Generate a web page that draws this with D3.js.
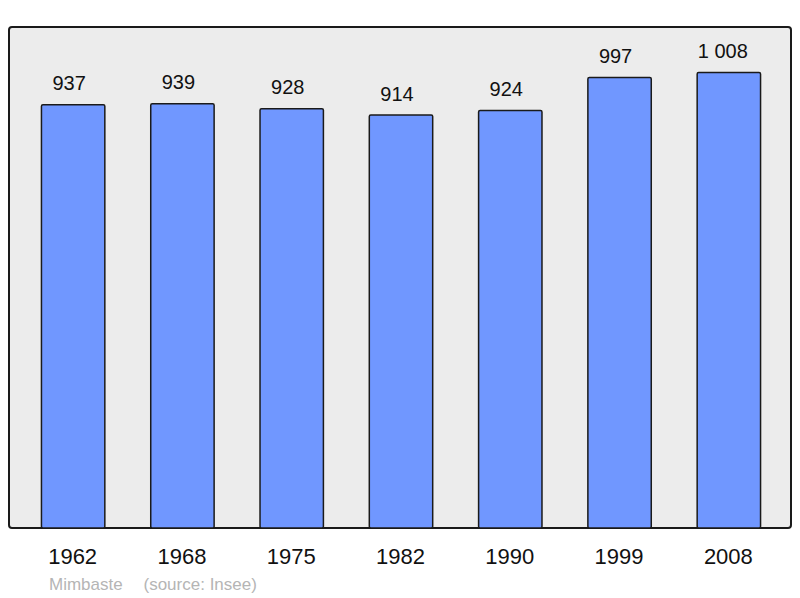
<!DOCTYPE html>
<html>
<head>
<meta charset="utf-8">
<script src="https://cdn.jsdelivr.net/npm/d3@7"></script>
<style>
  body { margin: 0; background: #fff; }
  text { font-family: "Liberation Sans", Arial, sans-serif; }
</style>
</head>
<body>
<div id="chart"></div>
<script>
const years = ["1962", "1968", "1975", "1982", "1990", "1999", "2008"];
const population = [937, 939, 928, 914, 924, 997, 1008];
const commune = "Mimbaste";
const source = "(source: Insee)";

const width = 800;
const height = 598;

const svg = d3
  .select("#chart")
  .append("svg")
  .attr("width", width)
  .attr("height", height);

// panel
svg
  .append("rect")
  .attr("x", 9)
  .attr("y", 27)
  .attr("width", 782)
  .attr("height", 501)
  .attr("rx", 3)
  .attr("fill", "#ececec")
  .attr("stroke", "#1a1a1a")
  .attr("stroke-width", 2);

const x = d3
  .scaleBand()
  .domain(years)
  .range([18.5, 783.5])
  .paddingInner(0.42)
  .paddingOuter(0.21);

const y = d3
  .scaleLinear()
  .domain([0, d3.max(population) * 1.1])
  .range([528, 27]);

const data = years.map((yr, i) => ({ year: yr, value: population[i] }));

const fmt = (v) => d3.format(",")(v).replace(/,/g, " ");

svg
  .append("g")
  .selectAll("rect")
  .data(data)
  .join("rect")
  .attr("x", (d) => x(d.year))
  .attr("y", (d) => y(d.value))
  .attr("width", x.bandwidth())
  .attr("height", (d) => y(0) - y(d.value))
  .attr("rx", 1.5)
  .attr("fill", "#7097ff")
  .attr("stroke", "#1a1a1a")
  .attr("stroke-width", 1.5);

// value labels (sit a little left of the bar centre, like the original)
svg
  .append("g")
  .selectAll("text")
  .data(data)
  .join("text")
  .attr("y", (d) => y(d.value) - 14.5)
  .attr("font-size", 20)
  .attr("fill", "#111")
  .text((d) => fmt(d.value))
  .attr("x", function (d) {
    const w = this.getComputedTextLength();
    return x(d.year) + x.bandwidth() / 2 - w * 0.62;
  });

// year labels
svg
  .append("g")
  .selectAll("text")
  .data(years)
  .join("text")
  .attr("x", (d) => x(d) + x.bandwidth() / 2 - 0.5)
  .attr("y", 563.5)
  .attr("text-anchor", "middle")
  .attr("font-size", 22)
  .attr("fill", "#111")
  .text((d) => d);

// source
svg
  .append("text")
  .attr("x", 49)
  .attr("y", 589.5)
  .attr("font-size", 17)
  .attr("fill", "#b5b5b5")
  .text(commune);

svg
  .append("text")
  .attr("x", 143.5)
  .attr("y", 589.5)
  .attr("font-size", 17)
  .attr("fill", "#b5b5b5")
  .text(source);
</script>
</body>
</html>
